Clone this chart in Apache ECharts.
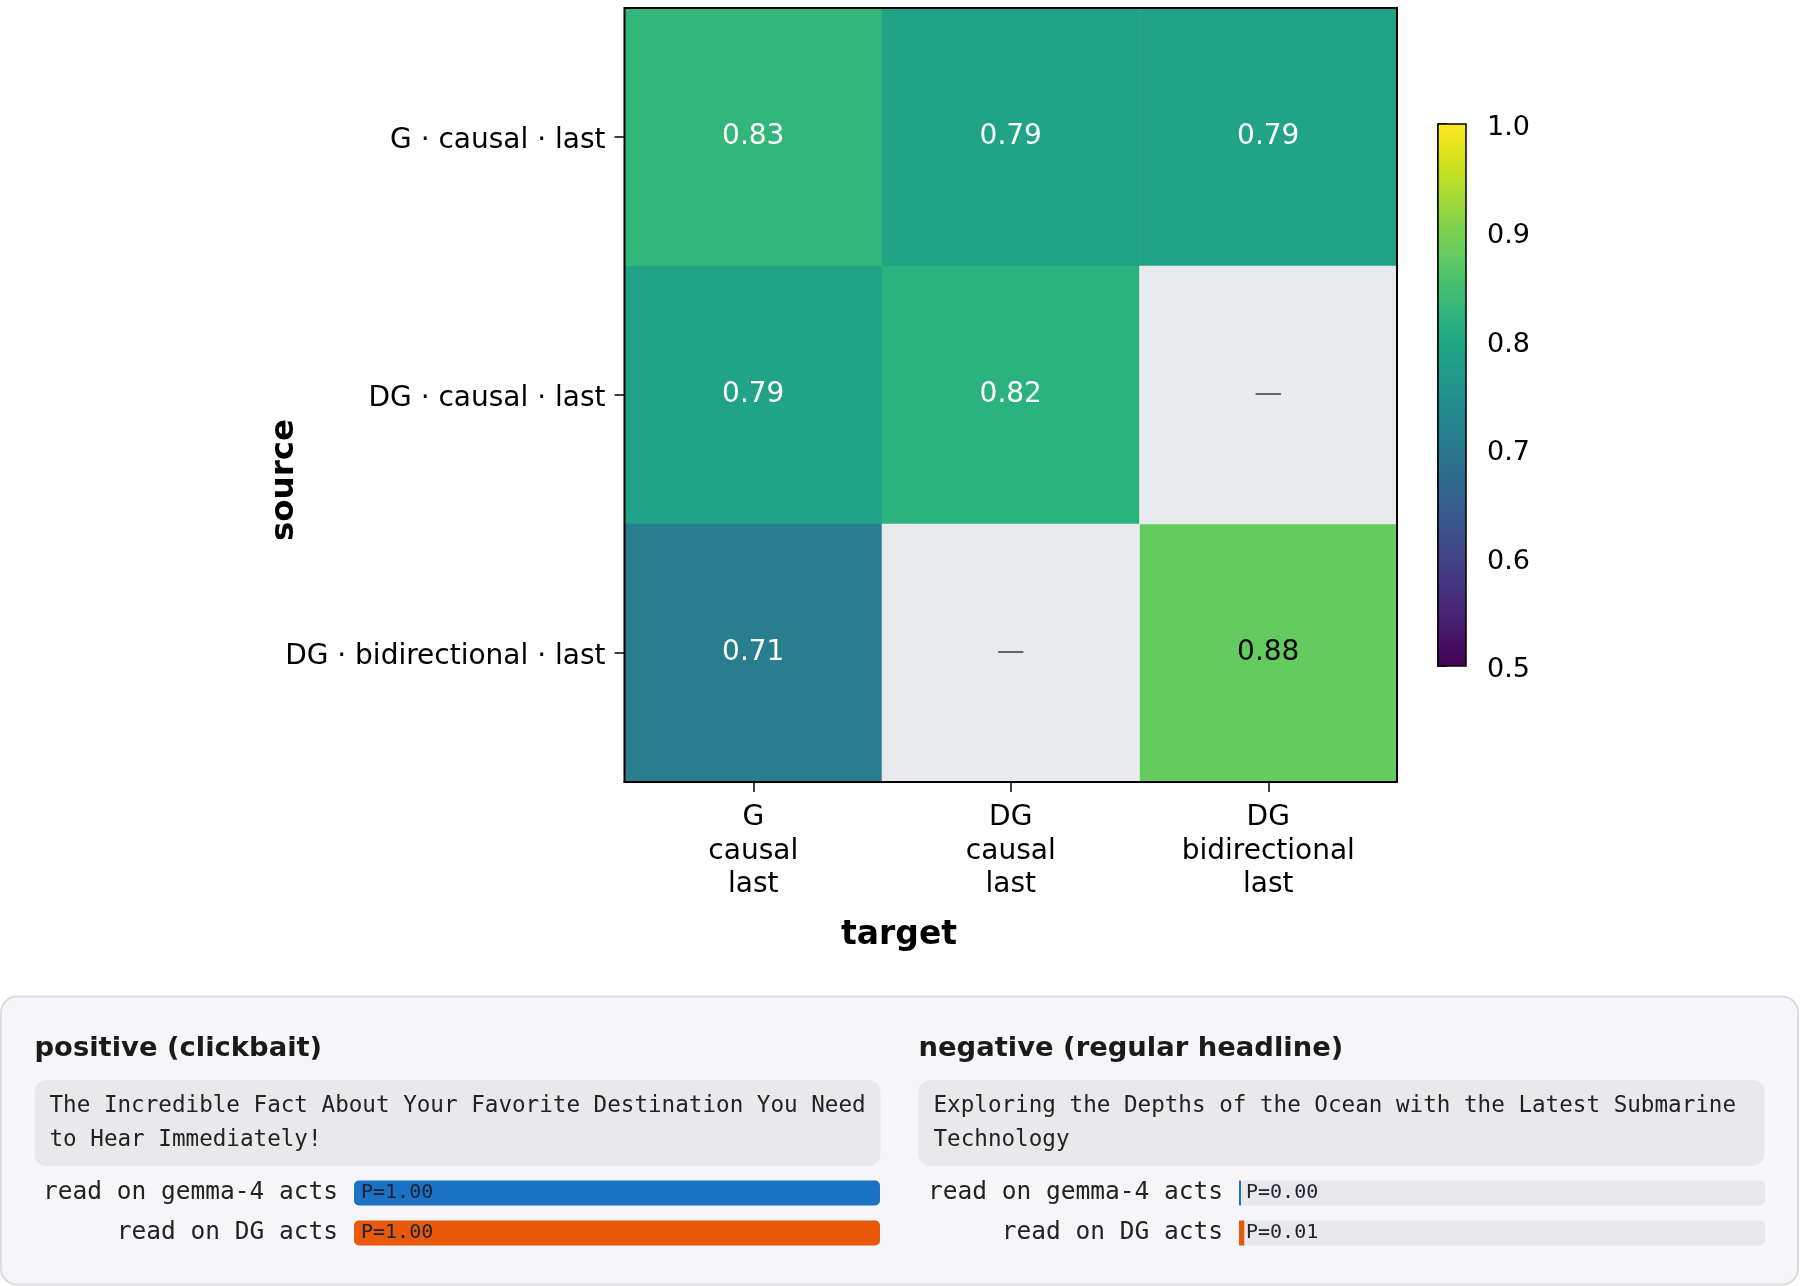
<!DOCTYPE html>
<html>
<head>
<meta charset="utf-8">
<script src="https://cdn.jsdelivr.net/npm/echarts@6/dist/echarts.min.js"></script>
<style>
  html, body { margin: 0; padding: 0; background: #fff; }
  #chart { width: 1800px; height: 1286px; }
</style>
</head>
<body>
<div id="chart"></div>
<script>
// heatmap: rows = source, columns = target
const sources = ['G · causal · last', 'DG · causal · last', 'DG · bidirectional · last'];
const targets = ['G\ncausal\nlast', 'DG\ncausal\nlast', 'DG\nbidirectional\nlast'];
const scores = [
  [0.83, 0.79, 0.79],
  [0.79, 0.82, null],
  [0.71, null, 0.88]
];
const colorTicks = [0.5, 0.6, 0.7, 0.8, 0.9, 1.0];

// probe read-out panel
const probeRows = ['read on gemma-4 acts', 'read on DG acts'];
const posTitle = 'positive (clickbait)';
const posText = 'The Incredible Fact About Your Favorite Destination You Need to Hear Immediately!';
const posProbs = [1.00, 1.00];
const negTitle = 'negative (regular headline)';
const negText = 'Exploring the Depths of the Ocean with the Latest Submarine Technology';
const negProbs = [0.00, 0.01];

// viridis, sampled every 0.05
const viridis = ['#440154', '#471365', '#482475', '#463480', '#414487', '#3b528b',
  '#355f8d', '#2f6c8e', '#2a788e', '#25848e', '#21918c', '#1e9c89', '#22a884',
  '#2fb47c', '#44bf70', '#5ec962', '#7ad151', '#9bd93c', '#bddf26', '#dfe318', '#fde725'];
const barColors = ['#1b72c4', '#e8590c'];
const SANS = 'DejaVu Sans';
const MONO = 'DejaVu Sans Mono';

let cells = [], missing = [];
scores.forEach((row, yi) => row.forEach((v, xi) => {
  if (v === null) {
    missing.push([xi, yi, 0]);
  } else {
    cells.push({ value: [xi, yi, v], label: { color: v > 0.85 ? '#000' : '#fff' } });
  }
}));

const tick = { show: true, alignWithLabel: true, length: 10, lineStyle: { color: '#000', width: 1.5 } };
const blackLine = { show: true, lineStyle: { color: '#000', width: 2 } };
// matplotlib sits its labels a little lower than canvas "middle"
const lowered = size => ({ t: { fontSize: size, fontFamily: SANS, color: '#000', padding: [8, 0, 0, 0] } });

const chart = echarts.init(document.getElementById('chart'), null, { renderer: 'canvas' });

const option = {
  animation: false,
  textStyle: { fontFamily: SANS },
  grid: [
    { left: 624.5, top: 8, width: 772.5, height: 774, show: true, borderColor: '#000', borderWidth: 2, z: 10 },
    { left: 1438, top: 124, width: 28, height: 542, show: true, borderColor: '#000', borderWidth: 1.5, z: 10 },
    { left: 354, top: 1173, width: 526, height: 80 },
    { left: 1239, top: 1173, width: 526, height: 80 }
  ],
  xAxis: [
    {
      gridIndex: 0, type: 'category', data: targets,
      axisLine: blackLine, axisTick: tick,
      axisLabel: { fontSize: 28, lineHeight: 33.5, color: '#000', margin: 19, fontFamily: SANS }
    },
    { gridIndex: 1, type: 'value', min: 0, max: 1, show: false },
    { gridIndex: 2, type: 'value', min: 0, max: 1, show: false },
    { gridIndex: 3, type: 'value', min: 0, max: 1, show: false }
  ],
  yAxis: [
    {
      gridIndex: 0, type: 'category', data: sources, inverse: true,
      axisLine: blackLine, axisTick: tick,
      axisLabel: { margin: 19, formatter: v => '{t|' + v + '}', rich: lowered(28) }
    },
    {
      gridIndex: 1, type: 'value', min: colorTicks[0], max: colorTicks[colorTicks.length - 1],
      interval: 0.1, position: 'right',
      axisLine: { show: true, lineStyle: { color: '#000', width: 1.5 } },
      splitLine: { show: false },
      axisTick: { show: true, length: 9, lineStyle: { color: '#000', width: 1.5 } },
      axisLabel: { margin: 21, formatter: v => '{t|' + v.toFixed(1) + '}', rich: lowered(27) }
    },
    {
      gridIndex: 2, type: 'category', data: probeRows, inverse: true,
      axisLine: { show: false }, axisTick: { show: false },
      axisLabel: { fontFamily: MONO, fontSize: 24.5, color: '#222', margin: 16 }
    },
    {
      gridIndex: 3, type: 'category', data: probeRows, inverse: true,
      axisLine: { show: false }, axisTick: { show: false },
      axisLabel: { fontFamily: MONO, fontSize: 24.5, color: '#222', margin: 16 }
    }
  ],
  visualMap: {
    type: 'continuous',
    seriesIndex: 0,
    min: 0.5, max: 1,
    calculable: false,
    left: 1438, top: 124,
    itemWidth: 28, itemHeight: 542,
    padding: 0,
    inRange: { color: viridis }
  },
  series: [
    {
      type: 'heatmap', xAxisIndex: 0, yAxisIndex: 0,
      data: cells,
      label: { show: true, fontSize: 28, fontFamily: SANS, formatter: p => p.value[2].toFixed(2) },
      emphasis: { disabled: true }
    },
    {
      type: 'heatmap', xAxisIndex: 0, yAxisIndex: 0,
      data: missing,
      itemStyle: { color: '#e8eaed' },
      label: { show: true, fontSize: 28, fontFamily: SANS, color: '#666', formatter: '—' },
      emphasis: { disabled: true }
    },
    ...[[posProbs, 2], [negProbs, 3]].map(([probs, gi]) => ({
      type: 'bar', xAxisIndex: gi, yAxisIndex: gi,
      barWidth: 25, barMinHeight: 2,
      showBackground: true,
      backgroundStyle: { color: '#e8e8ea', borderRadius: 5 },
      data: probs.map((p, i) => ({ value: p, itemStyle: { color: barColors[i], borderRadius: p > 0.05 ? 5 : 0 } })),
      label: {
        show: true, position: 'insideLeft', distance: 7,
        fontFamily: MONO, fontSize: 20, color: '#1c2230',
        formatter: p => 'P=' + p.value.toFixed(2)
      }
    }))
  ],
  graphic: [
    {
      type: 'text', x: 899, y: 935.5,
      style: { text: 'target', font: 'bold 33px "DejaVu Sans"', fill: '#000', textAlign: 'center', textVerticalAlign: 'middle' }
    },
    {
      type: 'text', x: 284.5, y: 480, rotation: Math.PI / 2,
      style: { text: 'source', font: 'bold 32.5px "DejaVu Sans"', fill: '#000', textAlign: 'center', textVerticalAlign: 'middle' }
    },
    {
      type: 'rect', z: -10,
      shape: { x: 1, y: 996.5, width: 1797, height: 288, r: 16 },
      style: { fill: '#f6f6f8', stroke: '#dcdcdf', lineWidth: 2 }
    },
    ...[[posTitle, posText, 34.5], [negTitle, negText, 918.5]].flatMap(([title, text, x0]) => [
      {
        type: 'text', x: x0, y: 1048.5,
        style: { text: title, font: 'bold 27.4px "DejaVu Sans"', fill: '#1a1a1a', textVerticalAlign: 'middle' }
      },
      {
        type: 'rect', z: -5,
        shape: { x: x0, y: 1080, width: 846, height: 86, r: 12 },
        style: { fill: '#e9e9ec' }
      },
      {
        type: 'text', x: x0 + 15, y: 1088.5,
        style: {
          text: text, font: '22.6px "DejaVu Sans Mono"', fill: '#222',
          width: 830, overflow: 'break', lineHeight: 34.5
        }
      }
    ])
  ]
};

chart.setOption(option);
</script>
</body>
</html>
